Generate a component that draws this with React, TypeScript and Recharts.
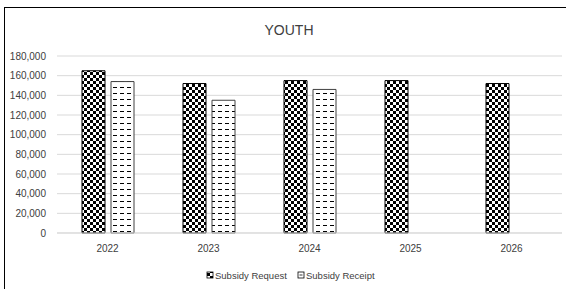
import { BarChart, Bar, XAxis, YAxis, CartesianGrid } from 'recharts'

const years = ['2022', '2023', '2024', '2025', '2026']
const subsidyRequest = [165000, 152000, 155000, 155000, 152000]
const subsidyReceipt: Array<number | null> = [154000, 135000, 146000, null, null]
const yTicks = [0, 20000, 40000, 60000, 80000, 100000, 120000, 140000, 160000, 180000]

const FONT = '"Liberation Sans", Arial, sans-serif'
const TEXT_COLOR = '#404040'

const chartData = years.map((year, i) => ({
  year,
  request: subsidyRequest[i],
  receipt: subsidyReceipt[i],
}))

export default function App() {
  return (
    <div
      style={{
        position: 'absolute',
        left: 0,
        top: 0,
        width: 566,
        height: 289,
        overflow: 'hidden',
        background: '#fff',
        fontFamily: FONT,
      }}
    >
      {/* outer chart border, right/bottom edges fall outside the crop */}
      <div
        style={{
          position: 'absolute',
          left: 4,
          top: 7,
          width: 600,
          height: 320,
          border: '1px solid #000',
          boxSizing: 'border-box',
        }}
      />
      <svg width={566} height={289} style={{ position: 'absolute', left: 0, top: 0 }}>
        <defs>
          <pattern id="checker" width={6} height={6} patternUnits="userSpaceOnUse">
            <rect x={0} y={0} width={6} height={6} fill="#fff" />
            <rect x={0} y={0} width={3} height={3} fill="#000" />
            <rect x={3} y={3} width={3} height={3} fill="#000" />
          </pattern>
          <pattern id="dashes" width={7} height={6} patternUnits="userSpaceOnUse">
            <rect x={0} y={0} width={7} height={6} fill="#fff" />
            <line x1={1} y1={3.5} x2={5} y2={3.5} stroke="#000" strokeWidth={1} />
          </pattern>
        </defs>
      </svg>
      <div style={{ position: 'absolute', left: 0, top: 0 }}>
        <BarChart
          width={566}
          height={289}
          data={chartData}
          margin={{ top: 56, right: 4, left: 0, bottom: 0 }}
          barSize={23}
          barGap={6}
        >
          <CartesianGrid vertical={false} stroke="#d9d9d9" />
          <XAxis
            dataKey="year"
            height={56}
            axisLine={{ stroke: '#d9d9d9' }}
            tickLine={false}
            tickSize={0}
            tickMargin={12}
            tick={{ fill: TEXT_COLOR, fontSize: 10, fontFamily: FONT }}
          />
          <YAxis
            width={57}
            domain={[0, 180000]}
            ticks={yTicks}
            interval={0}
            axisLine={false}
            tickLine={false}
            tickSize={0}
            tickMargin={11}
            tick={{ fill: TEXT_COLOR, fontSize: 10, fontFamily: FONT }}
            tickFormatter={(v: number) => v.toLocaleString('en-US')}
          />
          <Bar dataKey="request" fill="url(#checker)" stroke="#000" strokeWidth={1} isAnimationActive={false} />
          <Bar dataKey="receipt" fill="url(#dashes)" stroke="#404040" strokeWidth={1} isAnimationActive={false} />
        </BarChart>
      </div>
      <svg width={566} height={289} style={{ position: 'absolute', left: 0, top: 0, pointerEvents: 'none' }}>
        <text x={289} y={35} textAnchor="middle" fontSize={14} fill={TEXT_COLOR} fontFamily={FONT}>
          YOUTH
        </text>
        <rect x={207} y={272} width={6} height={6} fill="url(#checker)" stroke="#000" strokeWidth={0.8} />
        <text x={215} y={278.5} fontSize={9.5} fill={TEXT_COLOR} fontFamily={FONT}>
          Subsidy Request
        </text>
        <rect x={298} y={272} width={6} height={6} fill="#fff" stroke="#000" strokeWidth={0.8} />
        <line x1={299.5} y1={275} x2={302.5} y2={275} stroke="#000" strokeWidth={0.8} />
        <text x={306} y={278.5} fontSize={9.5} fill={TEXT_COLOR} fontFamily={FONT}>
          Subsidy Receipt
        </text>
      </svg>
    </div>
  )
}
